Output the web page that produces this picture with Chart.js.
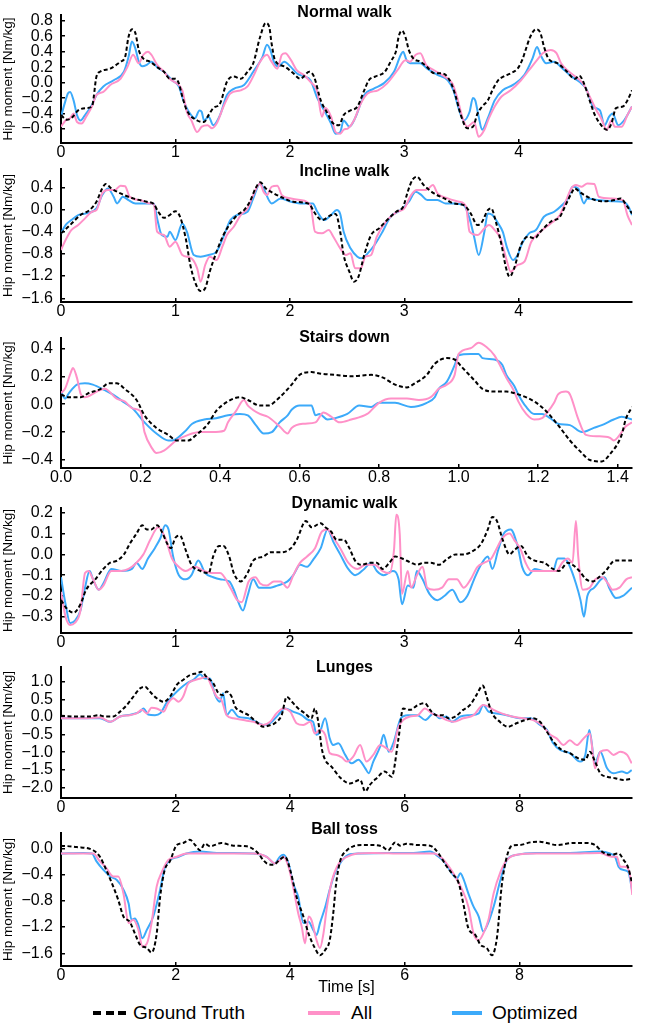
<!DOCTYPE html>
<html>
<head>
<meta charset="utf-8">
<script src="https://cdn.jsdelivr.net/npm/chart.js@4.4.1/dist/chart.umd.min.js"></script>
<style>
body { margin: 0; background: #fff; width: 656px; height: 1024px; position: relative; overflow: hidden; font-family: "Liberation Sans", Arial, sans-serif; }
canvas { position: absolute; left: 0; }
.item { position: absolute; top: 1001px; height: 24px; line-height: 24px; font-size: 19px; color: #000; white-space: nowrap; }
.swatch { position: absolute; top: 1011px; height: 4px; }
</style>
</head>
<body>

<div class="swatch" style="left:93px;width:33px;background:repeating-linear-gradient(to right,#000 0 8px,transparent 8px 12.5px);"></div>
<div class="item" style="left:133px;">Ground Truth</div>
<div class="swatch" style="left:308px;width:32px;background:rgb(255,145,200);"></div>
<div class="item" style="left:351px;">All</div>
<div class="swatch" style="left:452px;width:30px;background:rgb(60,170,250);"></div>
<div class="item" style="left:492px;">Optimized</div>

<script>
// series names and tick labels
var seriesNames = ['Ground Truth', 'All', 'Optimized'];
var walkXTicks = [0, 1, 2, 3, 4];
var stairsXTicks = [0, 0.2, 0.4, 0.6, 0.8, 1.0, 1.2, 1.4];
var longXTicks = [0, 2, 4, 6, 8];
var normalYTicks = [-0.6, -0.4, -0.2, 0, 0.2, 0.4, 0.6, 0.8];
var inclineYTicks = [-1.6, -1.2, -0.8, -0.4, 0, 0.4];
var stairsYTicks = [-0.4, -0.2, 0, 0.2, 0.4];
var dynamicYTicks = [-0.3, -0.2, -0.1, 0, 0.1, 0.2];
var lungesYTicks = [-2.0, -1.5, -1.0, -0.5, 0, 0.5, 1.0];
var ballYTicks = [-1.6, -1.2, -0.8, -0.4, 0];

// [time, moment]
var normalTruth = [[0,-0.42],[0.05,-0.48],[0.09,-0.46],[0.15,-0.36],[0.22,-0.33],[0.27,-0.31],[0.31,0.08],[0.34,0.14],[0.43,0.18],[0.52,0.27],[0.56,0.33],[0.59,0.59],[0.62,0.69],[0.65,0.64],[0.68,0.42],[0.72,0.31],[0.78,0.27],[0.84,0.20],[0.90,0.14],[0.95,0.05],[1.0,0.05],[1.03,-0.01],[1.06,-0.18],[1.10,-0.36],[1.19,-0.49],[1.25,-0.51],[1.29,-0.42],[1.33,-0.33],[1.39,-0.27],[1.45,0.01],[1.51,0.08],[1.57,0.05],[1.63,0.14],[1.68,0.25],[1.74,0.59],[1.79,0.77],[1.82,0.72],[1.84,0.51],[1.87,0.29],[1.95,0.21],[2.03,0.12],[2.09,0.05],[2.17,0.14],[2.21,0.08],[2.27,-0.23],[2.33,-0.40],[2.38,-0.53],[2.43,-0.55],[2.47,-0.42],[2.53,-0.36],[2.59,-0.31],[2.65,-0.10],[2.69,0.03],[2.75,0.08],[2.83,0.14],[2.88,0.27],[2.93,0.42],[2.95,0.59],[2.98,0.67],[3.01,0.59],[3.04,0.42],[3.08,0.31],[3.14,0.27],[3.20,0.20],[3.26,0.12],[3.32,0.12],[3.36,0.10],[3.41,-0.01],[3.45,-0.18],[3.49,-0.40],[3.55,-0.59],[3.60,-0.57],[3.64,-0.40],[3.68,-0.31],[3.73,-0.23],[3.77,-0.10],[3.82,0.03],[3.87,0.08],[3.93,0.12],[3.99,0.18],[4.03,0.29],[4.06,0.42],[4.10,0.59],[4.15,0.69],[4.19,0.64],[4.22,0.47],[4.26,0.31],[4.34,0.25],[4.41,0.16],[4.49,0.05],[4.53,0.09],[4.57,-0.01],[4.62,-0.23],[4.66,-0.40],[4.72,-0.55],[4.77,-0.61],[4.81,-0.53],[4.85,-0.33],[4.91,-0.31],[4.95,-0.23],[4.99,-0.10]];
var normalAll = [[0,-0.57],[0.04,-0.49],[0.08,-0.46],[0.11,-0.40],[0.14,-0.51],[0.18,-0.53],[0.22,-0.44],[0.27,-0.31],[0.31,-0.16],[0.37,-0.12],[0.43,-0.03],[0.52,0.05],[0.58,0.20],[0.63,0.36],[0.68,0.25],[0.72,0.36],[0.76,0.40],[0.79,0.36],[0.84,0.23],[0.90,0.14],[0.95,0.05],[1.01,-0.01],[1.06,-0.10],[1.10,-0.38],[1.14,-0.49],[1.19,-0.64],[1.23,-0.57],[1.28,-0.55],[1.32,-0.59],[1.36,-0.53],[1.42,-0.31],[1.48,-0.14],[1.57,-0.10],[1.63,-0.05],[1.68,0.08],[1.74,0.27],[1.80,0.36],[1.84,0.27],[1.89,0.18],[1.93,0.36],[1.96,0.38],[2.01,0.29],[2.06,0.16],[2.12,0.10],[2.18,0.01],[2.24,-0.12],[2.28,-0.44],[2.31,-0.33],[2.36,-0.44],[2.40,-0.64],[2.44,-0.66],[2.47,-0.61],[2.51,-0.59],[2.56,-0.49],[2.62,-0.27],[2.68,-0.14],[2.77,-0.10],[2.85,-0.01],[2.94,0.16],[3.01,0.29],[3.05,0.27],[3.10,0.36],[3.14,0.38],[3.19,0.23],[3.26,0.16],[3.35,0.08],[3.42,-0.01],[3.46,-0.18],[3.51,-0.46],[3.55,-0.57],[3.61,-0.51],[3.65,-0.70],[3.70,-0.61],[3.74,-0.46],[3.79,-0.31],[3.85,-0.18],[3.93,-0.10],[4.02,0.03],[4.09,0.16],[4.17,0.31],[4.21,0.38],[4.28,0.42],[4.33,0.38],[4.37,0.25],[4.44,0.14],[4.52,0.05],[4.57,-0.03],[4.62,-0.18],[4.68,-0.36],[4.72,-0.46],[4.77,-0.61],[4.81,-0.49],[4.84,-0.57],[4.90,-0.57],[4.95,-0.42],[4.99,-0.31]];
var normalOpt = [[0,-0.44],[0.04,-0.23],[0.06,-0.14],[0.08,-0.12],[0.11,-0.23],[0.14,-0.42],[0.17,-0.49],[0.21,-0.42],[0.27,-0.29],[0.31,-0.16],[0.37,-0.05],[0.46,0.03],[0.55,0.14],[0.59,0.33],[0.62,0.53],[0.65,0.44],[0.68,0.27],[0.71,0.21],[0.75,0.23],[0.79,0.27],[0.84,0.20],[0.90,0.14],[0.97,0.03],[1.03,-0.05],[1.07,-0.23],[1.11,-0.36],[1.17,-0.46],[1.21,-0.36],[1.23,-0.38],[1.25,-0.49],[1.29,-0.44],[1.33,-0.55],[1.39,-0.42],[1.45,-0.16],[1.51,-0.08],[1.60,-0.03],[1.68,0.14],[1.76,0.33],[1.80,0.49],[1.83,0.42],[1.86,0.27],[1.90,0.21],[1.95,0.27],[2.01,0.20],[2.06,0.12],[2.12,0.08],[2.18,0.03],[2.24,-0.20],[2.30,-0.36],[2.36,-0.53],[2.40,-0.66],[2.44,-0.64],[2.47,-0.49],[2.52,-0.57],[2.57,-0.46],[2.65,-0.16],[2.73,-0.08],[2.82,-0.01],[2.91,0.14],[2.97,0.36],[2.99,0.40],[3.02,0.29],[3.05,0.25],[3.10,0.25],[3.14,0.25],[3.20,0.18],[3.29,0.10],[3.38,0.03],[3.43,-0.10],[3.48,-0.36],[3.52,-0.49],[3.57,-0.38],[3.60,-0.20],[3.62,-0.23],[3.65,-0.44],[3.68,-0.61],[3.73,-0.46],[3.79,-0.23],[3.86,-0.10],[3.95,-0.03],[4.05,0.10],[4.12,0.31],[4.16,0.46],[4.19,0.36],[4.24,0.25],[4.31,0.27],[4.37,0.20],[4.46,0.08],[4.53,0.01],[4.59,-0.08],[4.65,-0.31],[4.71,-0.36],[4.75,-0.55],[4.79,-0.44],[4.82,-0.40],[4.87,-0.55],[4.92,-0.49],[4.99,-0.31]];

var inclineTruth = [[0,-0.43],[0.08,-0.28],[0.17,-0.10],[0.25,-0.01],[0.31,0.14],[0.36,0.38],[0.39,0.46],[0.44,0.38],[0.52,0.29],[0.63,0.20],[0.75,0.14],[0.81,0.10],[0.85,-0.04],[0.90,-0.15],[0.95,-0.10],[1.00,-0.03],[1.04,-0.13],[1.09,-0.52],[1.13,-1.0],[1.17,-1.30],[1.22,-1.47],[1.26,-1.42],[1.30,-1.12],[1.36,-0.76],[1.42,-0.46],[1.48,-0.25],[1.54,-0.10],[1.60,-0.01],[1.65,0.14],[1.70,0.38],[1.74,0.49],[1.79,0.38],[1.86,0.29],[1.95,0.20],[2.03,0.14],[2.17,0.10],[2.21,-0.04],[2.28,-0.19],[2.36,-0.10],[2.40,-0.08],[2.44,-0.40],[2.47,-0.82],[2.52,-1.12],[2.56,-1.30],[2.60,-1.21],[2.65,-0.82],[2.71,-0.46],[2.78,-0.34],[2.85,-0.19],[2.93,-0.04],[2.99,0.05],[3.03,0.32],[3.07,0.53],[3.11,0.59],[3.17,0.44],[3.26,0.29],[3.35,0.20],[3.43,0.11],[3.52,0.08],[3.58,-0.07],[3.64,-0.28],[3.68,-0.22],[3.73,-0.01],[3.76,0.02],[3.80,-0.22],[3.85,-0.64],[3.89,-1.06],[3.92,-1.21],[3.96,-1.06],[4.02,-0.64],[4.08,-0.49],[4.14,-0.52],[4.19,-0.40],[4.28,-0.22],[4.36,-0.13],[4.41,0.08],[4.46,0.29],[4.49,0.38],[4.53,0.32],[4.60,0.23],[4.72,0.15],[4.84,0.17],[4.89,0.20],[4.94,0.08],[4.99,-0.07]];
var inclineAll = [[0,-0.73],[0.04,-0.55],[0.09,-0.37],[0.15,-0.28],[0.21,-0.16],[0.27,-0.04],[0.31,-0.01],[0.36,0.29],[0.41,0.35],[0.47,0.35],[0.52,0.43],[0.56,0.42],[0.60,0.23],[0.69,0.17],[0.78,0.11],[0.81,0.11],[0.84,-0.40],[0.90,-0.46],[0.95,-0.67],[1.00,-0.58],[1.06,-0.82],[1.14,-0.88],[1.19,-1.06],[1.22,-1.30],[1.26,-1.0],[1.30,-0.85],[1.36,-0.91],[1.41,-0.67],[1.45,-0.46],[1.51,-0.31],[1.57,-0.10],[1.63,0.02],[1.68,0.26],[1.74,0.47],[1.77,0.32],[1.80,0.26],[1.84,0.41],[1.89,0.43],[1.93,0.26],[2.01,0.20],[2.09,0.17],[2.18,0.08],[2.22,-0.40],[2.28,-0.43],[2.34,-0.37],[2.38,-0.49],[2.44,-0.70],[2.49,-0.82],[2.53,-0.79],[2.57,-1.06],[2.62,-1.06],[2.66,-0.85],[2.71,-0.82],[2.76,-0.49],[2.85,-0.19],[2.94,-0.04],[3.00,0.02],[3.06,0.26],[3.11,0.35],[3.19,0.35],[3.25,0.44],[3.29,0.29],[3.38,0.20],[3.48,0.14],[3.54,0.05],[3.57,-0.40],[3.64,-0.46],[3.70,-0.34],[3.74,-0.28],[3.79,-0.37],[3.84,-0.52],[3.89,-0.88],[3.93,-1.12],[3.99,-1.0],[4.05,-0.94],[4.11,-0.58],[4.19,-0.40],[4.28,-0.25],[4.36,-0.10],[4.41,0.14],[4.46,0.38],[4.50,0.44],[4.55,0.41],[4.60,0.47],[4.66,0.46],[4.70,0.23],[4.81,0.20],[4.91,0.17],[4.95,-0.10],[4.99,-0.28]];
var inclineOpt = [[0,-0.43],[0.04,-0.28],[0.09,-0.19],[0.15,-0.10],[0.22,-0.07],[0.31,0.02],[0.36,0.26],[0.41,0.38],[0.46,0.23],[0.49,0.11],[0.54,0.23],[0.59,0.17],[0.65,0.11],[0.75,0.11],[0.81,0.11],[0.84,-0.16],[0.88,-0.46],[0.93,-0.49],[0.95,-0.40],[1.00,-0.55],[1.06,-0.25],[1.10,-0.40],[1.16,-0.82],[1.22,-0.85],[1.29,-0.82],[1.36,-0.76],[1.42,-0.49],[1.48,-0.19],[1.54,-0.10],[1.63,-0.04],[1.68,0.20],[1.74,0.47],[1.77,0.38],[1.84,0.11],[1.92,0.20],[2.01,0.14],[2.09,0.11],[2.20,0.11],[2.24,-0.04],[2.30,-0.19],[2.36,-0.10],[2.41,-0.01],[2.44,-0.08],[2.47,-0.40],[2.53,-0.70],[2.59,-0.85],[2.63,-0.88],[2.68,-0.79],[2.74,-0.64],[2.81,-0.40],[2.88,-0.13],[2.97,-0.01],[3.04,0.14],[3.10,0.32],[3.15,0.26],[3.20,0.17],[3.29,0.17],[3.36,0.11],[3.43,0.11],[3.52,0.08],[3.57,-0.16],[3.61,-0.49],[3.65,-0.82],[3.70,-0.40],[3.73,-0.07],[3.77,-0.10],[3.82,-0.25],[3.86,-0.40],[3.90,-0.70],[3.95,-0.91],[3.99,-0.82],[4.03,-0.61],[4.09,-0.43],[4.15,-0.37],[4.22,-0.13],[4.31,-0.04],[4.38,0.08],[4.43,0.20],[4.47,0.41],[4.52,0.38],[4.57,0.11],[4.60,0.20],[4.69,0.17],[4.81,0.15],[4.91,0.14],[4.96,0.05],[4.99,-0.10]];

var stairsTruth = [[0,0.07],[0.02,0.05],[0.05,0.05],[0.07,0.08],[0.10,0.11],[0.12,0.15],[0.14,0.15],[0.16,0.11],[0.19,0.03],[0.21,-0.08],[0.24,-0.17],[0.27,-0.22],[0.29,-0.26],[0.32,-0.26],[0.34,-0.22],[0.37,-0.14],[0.39,-0.05],[0.42,0.02],[0.45,0.05],[0.47,0.03],[0.50,-0.01],[0.52,-0.01],[0.55,0.05],[0.58,0.14],[0.60,0.21],[0.63,0.23],[0.65,0.22],[0.69,0.21],[0.73,0.20],[0.78,0.21],[0.81,0.19],[0.84,0.14],[0.87,0.12],[0.89,0.15],[0.92,0.21],[0.94,0.29],[0.97,0.33],[0.99,0.32],[1.01,0.26],[1.04,0.17],[1.06,0.11],[1.09,0.09],[1.12,0.09],[1.15,0.07],[1.19,0.02],[1.22,-0.05],[1.25,-0.15],[1.28,-0.26],[1.31,-0.35],[1.33,-0.40],[1.36,-0.41],[1.38,-0.36],[1.41,-0.22],[1.42,-0.11],[1.436,-0.02]];
var stairsAll = [[0,0.08],[0.01,0.11],[0.025,0.23],[0.03,0.26],[0.04,0.19],[0.05,0.07],[0.06,0.05],[0.09,0.09],[0.11,0.11],[0.14,0.04],[0.16,0.02],[0.18,-0.03],[0.20,-0.05],[0.21,-0.20],[0.23,-0.32],[0.24,-0.35],[0.26,-0.33],[0.29,-0.26],[0.32,-0.22],[0.35,-0.20],[0.38,-0.20],[0.41,-0.19],[0.42,-0.13],[0.44,-0.05],[0.46,0.03],[0.47,-0.01],[0.50,-0.07],[0.52,-0.09],[0.55,-0.16],[0.57,-0.21],[0.58,-0.17],[0.61,-0.14],[0.64,-0.13],[0.66,-0.06],[0.68,-0.09],[0.70,-0.13],[0.73,-0.11],[0.77,-0.07],[0.80,0.01],[0.83,0.04],[0.87,0.04],[0.90,0.03],[0.93,0.05],[0.95,0.11],[0.97,0.14],[0.99,0.21],[1.00,0.36],[1.03,0.40],[1.05,0.44],[1.07,0.41],[1.09,0.35],[1.10,0.30],[1.12,0.19],[1.14,0.09],[1.15,0.02],[1.17,-0.07],[1.19,-0.11],[1.21,-0.10],[1.22,-0.07],[1.24,0.01],[1.25,0.07],[1.27,0.09],[1.28,0.07],[1.30,-0.10],[1.32,-0.22],[1.35,-0.23],[1.38,-0.24],[1.39,-0.26],[1.41,-0.20],[1.42,-0.16],[1.436,-0.13]];
var stairsOpt = [[0,0.09],[0.01,0.04],[0.02,0.08],[0.04,0.14],[0.06,0.15],[0.08,0.14],[0.11,0.10],[0.13,0.07],[0.16,0.01],[0.18,-0.03],[0.21,-0.13],[0.24,-0.21],[0.27,-0.26],[0.28,-0.26],[0.31,-0.20],[0.33,-0.14],[0.36,-0.11],[0.39,-0.10],[0.42,-0.08],[0.45,-0.07],[0.47,-0.08],[0.49,-0.15],[0.51,-0.21],[0.53,-0.20],[0.55,-0.13],[0.57,-0.08],[0.58,-0.04],[0.60,-0.01],[0.63,-0.01],[0.64,-0.08],[0.65,-0.07],[0.67,-0.11],[0.69,-0.10],[0.72,-0.07],[0.75,-0.01],[0.78,-0.02],[0.80,0.01],[0.84,0.01],[0.88,-0.02],[0.92,0.01],[0.94,0.05],[0.95,0.11],[0.97,0.16],[0.99,0.28],[1.00,0.35],[1.03,0.36],[1.05,0.36],[1.06,0.33],[1.09,0.32],[1.11,0.28],[1.12,0.21],[1.14,0.13],[1.15,0.07],[1.17,-0.02],[1.19,-0.07],[1.21,-0.07],[1.23,-0.10],[1.25,-0.14],[1.28,-0.15],[1.31,-0.20],[1.34,-0.17],[1.36,-0.15],[1.39,-0.11],[1.41,-0.09],[1.436,-0.11]];

var dynamicTruth = [[0,-0.22],[0.05,-0.26],[0.11,-0.28],[0.17,-0.24],[0.22,-0.17],[0.30,-0.12],[0.37,-0.07],[0.43,-0.04],[0.49,-0.03],[0.55,0.00],[0.60,0.05],[0.66,0.10],[0.71,0.14],[0.75,0.12],[0.79,0.12],[0.84,0.14],[0.88,0.11],[0.93,0.05],[0.96,0.03],[1.00,0.08],[1.04,0.09],[1.09,0.02],[1.14,-0.05],[1.22,-0.08],[1.29,-0.09],[1.33,-0.01],[1.38,0.04],[1.42,0.04],[1.47,-0.01],[1.51,-0.09],[1.57,-0.13],[1.63,-0.09],[1.68,-0.03],[1.77,-0.01],[1.83,0.01],[1.92,0.01],[2.01,0.03],[2.06,0.07],[2.14,0.16],[2.19,0.13],[2.27,0.15],[2.31,0.13],[2.36,0.11],[2.41,0.07],[2.47,0.07],[2.52,0.03],[2.57,-0.03],[2.62,-0.05],[2.71,-0.04],[2.76,-0.04],[2.81,-0.07],[2.87,-0.04],[2.92,-0.01],[2.98,-0.02],[3.06,-0.04],[3.11,-0.05],[3.17,-0.04],[3.23,-0.04],[3.30,-0.05],[3.38,-0.02],[3.45,0.00],[3.52,0.00],[3.61,0.02],[3.67,0.05],[3.73,0.12],[3.77,0.18],[3.81,0.16],[3.86,0.07],[3.92,0.00],[3.96,0.02],[4.02,0.04],[4.08,-0.01],[4.14,-0.03],[4.22,-0.04],[4.30,-0.07],[4.35,-0.08],[4.43,-0.04],[4.47,-0.05],[4.53,-0.08],[4.59,-0.12],[4.65,-0.13],[4.70,-0.11],[4.76,-0.08],[4.84,-0.03],[4.90,-0.03],[4.99,-0.03]];
var dynamicAll = [[0,-0.18],[0.04,-0.30],[0.08,-0.34],[0.12,-0.33],[0.17,-0.27],[0.21,-0.09],[0.24,-0.08],[0.28,-0.12],[0.33,-0.17],[0.37,-0.15],[0.44,-0.08],[0.52,-0.08],[0.59,-0.07],[0.66,-0.04],[0.72,0.00],[0.78,0.07],[0.85,0.13],[0.91,0.08],[0.97,-0.02],[1.01,-0.05],[1.09,-0.08],[1.17,-0.06],[1.25,-0.08],[1.33,-0.09],[1.39,-0.09],[1.48,-0.16],[1.54,-0.22],[1.58,-0.23],[1.64,-0.13],[1.70,-0.11],[1.74,-0.14],[1.80,-0.15],[1.86,-0.13],[1.92,-0.13],[1.98,-0.16],[2.03,-0.10],[2.09,-0.04],[2.15,-0.01],[2.22,0.03],[2.28,0.11],[2.33,0.12],[2.38,0.08],[2.44,0.03],[2.51,-0.04],[2.59,-0.07],[2.66,-0.05],[2.74,-0.05],[2.81,-0.08],[2.87,-0.09],[2.91,0.02],[2.93,0.19],[2.96,0.10],[2.98,-0.19],[3.03,-0.08],[3.06,-0.16],[3.11,-0.10],[3.16,-0.06],[3.20,-0.16],[3.26,-0.17],[3.33,-0.16],[3.39,-0.12],[3.46,-0.12],[3.52,-0.16],[3.58,-0.12],[3.64,-0.06],[3.70,-0.04],[3.76,-0.02],[3.80,0.02],[3.86,0.08],[3.92,0.10],[3.96,0.07],[4.02,0.02],[4.06,-0.04],[4.11,-0.08],[4.16,-0.08],[4.25,-0.08],[4.33,-0.08],[4.38,-0.04],[4.43,-0.02],[4.47,-0.04],[4.50,0.16],[4.52,-0.01],[4.56,-0.17],[4.62,-0.16],[4.67,-0.12],[4.73,-0.11],[4.78,-0.14],[4.82,-0.17],[4.88,-0.16],[4.94,-0.12],[4.99,-0.11]];
var dynamicOpt = [[0,-0.11],[0.04,-0.24],[0.08,-0.33],[0.12,-0.32],[0.17,-0.27],[0.21,-0.16],[0.25,-0.08],[0.28,-0.12],[0.33,-0.17],[0.37,-0.14],[0.44,-0.07],[0.53,-0.08],[0.62,-0.07],[0.66,-0.04],[0.71,-0.07],[0.76,-0.02],[0.82,0.03],[0.87,0.08],[0.91,0.14],[0.94,0.12],[0.98,-0.01],[1.03,-0.10],[1.09,-0.12],[1.14,-0.10],[1.20,-0.03],[1.26,-0.09],[1.33,-0.11],[1.39,-0.12],[1.47,-0.13],[1.51,-0.17],[1.55,-0.23],[1.59,-0.27],[1.63,-0.20],[1.68,-0.12],[1.73,-0.16],[1.77,-0.16],[1.83,-0.16],[1.89,-0.15],[1.98,-0.13],[2.03,-0.10],[2.09,-0.05],[2.15,-0.06],[2.21,-0.02],[2.27,0.03],[2.33,0.12],[2.38,0.06],[2.44,0.00],[2.51,-0.07],[2.57,-0.10],[2.65,-0.07],[2.71,-0.04],[2.76,-0.08],[2.82,-0.10],[2.90,-0.08],[2.95,-0.12],[2.98,-0.24],[3.03,-0.15],[3.08,-0.16],[3.11,-0.08],[3.16,-0.12],[3.22,-0.19],[3.29,-0.22],[3.35,-0.20],[3.42,-0.17],[3.49,-0.23],[3.55,-0.20],[3.61,-0.12],[3.67,-0.05],[3.73,-0.01],[3.77,-0.07],[3.82,0.02],[3.87,0.10],[3.93,0.12],[3.99,0.04],[4.03,-0.06],[4.08,-0.10],[4.14,-0.07],[4.22,-0.08],[4.30,-0.08],[4.34,-0.02],[4.40,-0.02],[4.44,-0.05],[4.50,-0.14],[4.54,-0.22],[4.57,-0.30],[4.60,-0.20],[4.66,-0.16],[4.72,-0.12],[4.75,-0.11],[4.79,-0.16],[4.85,-0.21],[4.91,-0.20],[4.99,-0.16]];

var lungesTruth = [[0,0.03],[0.27,0.01],[0.51,0.01],[0.65,0.05],[0.77,0.01],[0.91,0.01],[1.03,0.15],[1.15,0.34],[1.26,0.57],[1.38,0.81],[1.47,0.86],[1.55,0.72],[1.67,0.53],[1.79,0.43],[1.90,0.57],[2.02,0.91],[2.13,1.05],[2.25,1.19],[2.37,1.24],[2.45,1.28],[2.54,1.14],[2.66,0.95],[2.75,0.67],[2.83,0.62],[2.89,0.72],[2.98,0.57],[3.04,0.29],[3.15,0.15],[3.27,0.05],[3.41,-0.14],[3.53,-0.28],[3.62,-0.25],[3.73,-0.18],[3.85,0.05],[3.94,0.57],[4.03,0.43],[4.14,0.24],[4.26,0.10],[4.37,-0.04],[4.43,0.24],[4.49,-0.14],[4.55,-0.89],[4.61,-1.22],[4.72,-1.41],[4.87,-1.72],[5.04,-1.89],[5.22,-1.79],[5.31,-2.12],[5.39,-1.93],[5.51,-1.74],[5.65,-1.55],[5.77,-1.70],[5.89,-0.61],[5.97,0.24],[6.09,0.20],[6.23,0.34],[6.35,0.39],[6.44,0.20],[6.55,0.05],[6.67,0.05],[6.76,-0.04],[6.88,0.01],[7.02,0.20],[7.14,0.34],[7.25,0.62],[7.36,0.89],[7.43,0.57],[7.51,0.15],[7.66,-0.14],[7.80,-0.28],[7.95,-0.18],[8.10,-0.09],[8.24,-0.04],[8.36,-0.14],[8.48,-0.42],[8.59,-0.70],[8.74,-0.94],[8.88,-1.03],[9.03,-1.18],[9.15,-1.22],[9.23,-0.99],[9.32,-1.27],[9.41,-1.60],[9.53,-1.70],[9.67,-1.74],[9.81,-1.79],[9.96,-1.76]];
var lungesAll = [[0,-0.04],[0.39,-0.04],[0.68,-0.02],[0.86,-0.14],[1.03,0.01],[1.20,0.05],[1.32,0.10],[1.41,0.20],[1.50,0.10],[1.58,0.26],[1.67,0.24],[1.79,0.15],[1.87,0.39],[1.96,0.53],[2.05,0.43],[2.13,0.57],[2.22,0.95],[2.34,1.05],[2.43,1.09],[2.54,1.14],[2.63,0.86],[2.72,0.57],[2.80,0.48],[2.89,0.05],[3.01,-0.04],[3.18,-0.09],[3.36,-0.14],[3.53,-0.23],[3.65,-0.14],[3.76,0.10],[3.88,0.24],[4.00,0.15],[4.11,-0.18],[4.23,-0.23],[4.35,-0.14],[4.43,-0.47],[4.52,-0.37],[4.61,-0.51],[4.69,-1.03],[4.81,-1.08],[4.90,-1.15],[4.99,-1.27],[5.10,-1.13],[5.22,-0.80],[5.33,-1.27],[5.45,-1.08],[5.57,-0.80],[5.68,-0.89],[5.77,-0.99],[5.89,-0.28],[5.97,-0.09],[6.09,0.01],[6.23,0.05],[6.35,0.24],[6.47,0.10],[6.61,0.01],[6.73,-0.09],[6.85,-0.14],[7.02,-0.04],[7.20,0.05],[7.37,0.34],[7.46,0.29],[7.55,0.20],[7.69,0.10],[7.87,0.01],[8.07,-0.04],[8.24,-0.09],[8.39,-0.23],[8.54,-0.51],[8.65,-0.61],[8.77,-0.80],[8.88,-0.66],[9.00,-0.80],[9.12,-0.61],[9.23,-0.47],[9.32,-1.46],[9.41,-0.99],[9.53,-0.94],[9.64,-1.08],[9.76,-0.99],[9.88,-1.08],[9.96,-1.32]];
var lungesOpt = [[0,-0.04],[0.39,-0.04],[0.68,-0.04],[0.86,-0.14],[1.03,0.01],[1.23,0.07],[1.38,0.15],[1.44,0.24],[1.52,0.07],[1.64,0.05],[1.73,0.10],[1.84,0.39],[1.96,0.62],[2.08,0.81],[2.19,0.95],[2.31,1.05],[2.43,1.21],[2.51,1.09],[2.60,1.09],[2.69,0.62],[2.77,0.43],[2.83,0.67],[2.89,0.05],[2.98,0.20],[3.09,0.01],[3.27,-0.04],[3.41,-0.14],[3.53,-0.23],[3.65,-0.18],[3.79,0.05],[3.91,0.24],[4.05,0.15],[4.20,0.05],[4.32,-0.09],[4.40,-0.14],[4.46,-0.51],[4.52,-0.42],[4.61,-0.04],[4.69,-0.61],[4.75,-0.80],[4.84,-0.75],[4.96,-1.08],[5.07,-1.32],[5.19,-1.22],[5.31,-1.46],[5.37,-1.60],[5.45,-1.27],[5.57,-0.84],[5.63,-0.51],[5.72,-0.99],[5.81,-0.70],[5.93,-0.04],[6.05,0.05],[6.22,0.05],[6.36,-0.09],[6.50,0.10],[6.61,-0.04],[6.73,0.01],[6.82,-0.14],[6.97,0.01],[7.14,0.05],[7.29,0.10],[7.37,0.34],[7.46,0.15],[7.61,0.10],[7.78,0.05],[8.01,-0.04],[8.19,-0.04],[8.36,-0.23],[8.48,-0.37],[8.59,-0.75],[8.71,-0.94],[8.88,-1.03],[9.06,-1.27],[9.15,-1.08],[9.22,-0.37],[9.32,-1.32],[9.41,-0.99],[9.53,-1.46],[9.64,-1.60],[9.79,-1.55],[9.88,-1.60],[9.96,-1.51]];

var ballTruth = [[0,0.04],[0.27,0.02],[0.56,-0.03],[0.68,-0.13],[0.79,-0.33],[0.91,-0.58],[1.00,-0.79],[1.09,-1.04],[1.20,-1.12],[1.29,-1.30],[1.38,-1.47],[1.50,-1.52],[1.58,-1.59],[1.67,-1.30],[1.73,-0.74],[1.81,-0.33],[1.90,-0.20],[2.02,0.05],[2.13,0.08],[2.25,0.13],[2.34,0.05],[2.43,-0.03],[2.51,0.07],[2.60,0.03],[2.80,0.08],[3.01,0.04],[3.24,0.03],[3.41,-0.05],[3.59,-0.23],[3.71,-0.25],[3.82,-0.17],[3.91,-0.13],[4.00,-0.33],[4.11,-0.74],[4.23,-1.04],[4.32,-1.30],[4.43,-1.52],[4.52,-1.63],[4.61,-1.55],[4.69,-1.40],[4.75,-1.0],[4.80,-0.55],[4.87,-0.20],[4.99,-0.03],[5.10,0.03],[5.28,0.05],[5.45,0.05],[5.60,0.03],[5.71,-0.03],[5.83,0.09],[5.92,0.04],[6.03,0.07],[6.21,0.05],[6.44,0.04],[6.59,-0.08],[6.71,-0.25],[6.82,-0.38],[6.94,-0.53],[7.02,-0.84],[7.11,-1.22],[7.23,-1.32],[7.32,-1.47],[7.43,-1.52],[7.52,-1.63],[7.61,-1.35],[7.69,-0.58],[7.78,-0.13],[7.87,0.04],[8.01,0.05],[8.19,0.09],[8.36,0.10],[8.48,0.08],[8.65,0.05],[8.94,0.08],[9.18,0.08],[9.32,0.05],[9.44,-0.05],[9.58,-0.10],[9.73,-0.08],[9.82,-0.18],[9.90,-0.30],[9.96,-0.51]];
var ballAll = [[0,-0.08],[0.39,-0.08],[0.56,-0.08],[0.68,-0.20],[0.79,-0.30],[0.91,-0.43],[1.00,-0.43],[1.09,-0.69],[1.18,-1.14],[1.26,-1.09],[1.35,-1.24],[1.42,-1.50],[1.50,-1.45],[1.58,-1.14],[1.67,-0.58],[1.76,-0.36],[1.87,-0.18],[2.02,-0.13],[2.19,-0.08],[2.43,-0.08],[2.72,-0.08],[3.01,-0.08],[3.36,-0.08],[3.59,-0.13],[3.73,-0.23],[3.82,-0.18],[3.88,-0.13],[3.97,-0.28],[4.05,-0.58],[4.14,-0.99],[4.20,-1.19],[4.26,-1.45],[4.32,-1.04],[4.37,-1.09],[4.46,-1.40],[4.52,-1.52],[4.58,-1.30],[4.64,-0.90],[4.72,-0.52],[4.85,-0.23],[4.99,-0.13],[5.17,-0.08],[5.45,-0.07],[5.98,-0.08],[6.50,-0.08],[6.65,-0.15],[6.77,-0.28],[6.88,-0.43],[7.00,-0.63],[7.11,-0.89],[7.20,-1.30],[7.29,-1.40],[7.37,-1.30],[7.46,-1.09],[7.55,-0.69],[7.67,-0.36],[7.78,-0.18],[7.95,-0.10],[8.30,-0.08],[8.88,-0.08],[9.41,-0.07],[9.61,-0.13],[9.70,-0.13],[9.76,-0.28],[9.84,-0.28],[9.93,-0.41],[9.97,-0.71]];
var ballOpt = [[0,-0.08],[0.39,-0.07],[0.54,-0.08],[0.62,-0.20],[0.74,-0.33],[0.86,-0.43],[0.97,-0.48],[1.09,-0.63],[1.18,-0.84],[1.23,-1.09],[1.29,-1.07],[1.35,-1.17],[1.42,-1.37],[1.50,-1.24],[1.61,-1.04],[1.73,-0.63],[1.81,-0.30],[1.90,-0.18],[2.05,-0.13],[2.19,-0.08],[2.43,-0.05],[2.72,-0.07],[3.01,-0.07],[3.36,-0.08],[3.59,-0.13],[3.73,-0.23],[3.82,-0.13],[3.88,-0.10],[3.97,-0.23],[4.05,-0.53],[4.14,-0.74],[4.23,-1.14],[4.32,-1.12],[4.40,-1.24],[4.46,-1.32],[4.52,-1.14],[4.61,-0.90],[4.69,-0.63],[4.77,-0.40],[4.87,-0.23],[5.01,-0.10],[5.22,-0.08],[5.68,-0.07],[6.15,-0.07],[6.44,-0.05],[6.59,-0.13],[6.71,-0.23],[6.82,-0.38],[6.91,-0.46],[6.97,-0.38],[7.02,-0.46],[7.11,-0.69],[7.20,-0.89],[7.29,-1.04],[7.37,-1.27],[7.43,-1.19],[7.55,-0.89],[7.67,-0.48],[7.78,-0.18],[7.95,-0.10],[8.30,-0.07],[8.88,-0.07],[9.41,-0.05],[9.58,-0.08],[9.67,-0.13],[9.73,-0.28],[9.82,-0.33],[9.90,-0.36],[9.97,-0.66]];

var truthColor = '#000000';
var allColor = 'rgb(255,145,200)';
var optColor = 'rgb(60,170,250)';
var fontFamily = '"Liberation Sans", Arial, sans-serif';
// room above each plot area; must exceed half a tick label plus the tick padding
var padTop = 24;

function formatTick(value, decimals) {
	var s = Math.abs(value).toFixed(decimals);
	return (value < -1e-9 ? '\u2212' : '') + s;
}

// subplot title drawn at a fixed height, like matplotlib does
var panelTitle = {
	id: 'panelTitle',
	afterDraw: function(chart, args, opts) {
		var ctx = chart.ctx;
		ctx.save();
		ctx.font = 'bold 16px ' + fontFamily;
		ctx.fillStyle = '#000';
		ctx.textAlign = 'center';
		ctx.textBaseline = 'middle';
		ctx.fillText(opts.text, 344.5, opts.y);
		ctx.restore();
	}
};

function makeLine(label, points, color, dash) {
	return {
		label: label,
		data: points.map(function(p) { return {x: p[0], y: p[1]}; }),
		borderColor: color,
		borderWidth: 2,
		borderDash: dash || [],
		pointRadius: 0,
		fill: false,
		cubicInterpolationMode: 'monotone'
	};
}

function createPanel(p) {
	var xH = p.xTitle ? 31 : 24;
	var canvasTop = p.top - padTop;
	var canvas = document.createElement('canvas');
	canvas.width = 656;
	canvas.height = padTop + (p.bottom - p.top) + xH;
	canvas.style.top = canvasTop + 'px';
	document.body.appendChild(canvas);

	var axisGrid = { drawOnChartArea: false, drawTicks: true, tickLength: -4, color: '#000', lineWidth: 1.5 };
	var axisBorder = { display: true, color: '#000', width: 2 };

	new Chart(canvas.getContext('2d'), {
		type: 'line',
		data: {
			datasets: [
				makeLine(seriesNames[0], p.truth, truthColor, [4, 2.5]),
				makeLine(seriesNames[1], p.all, allColor),
				makeLine(seriesNames[2], p.opt, optColor)
			]
		},
		options: {
			responsive: false,
			animation: false,
			layout: { padding: { top: padTop, right: 24, bottom: 0, left: 0 } },
			plugins: {
				legend: { display: false },
				tooltip: { enabled: false },
				panelTitle: { text: p.title, y: p.titleY - canvasTop }
			},
			scales: {
				x: {
					type: 'linear',
					min: 0,
					max: p.xMax,
					afterBuildTicks: function(s) { s.ticks = p.xTicks.map(function(v) { return {value: v}; }); },
					afterFit: function(s) { s.height = xH; },
					ticks: {
						autoSkip: false, maxRotation: 0, padding: 4, color: '#000',
						font: { family: fontFamily, size: 16 },
						callback: function(v) { return formatTick(v, p.xDecimals); }
					},
					grid: axisGrid,
					border: axisBorder,
					title: {
						display: !!p.xTitle, text: p.xTitle || '', color: '#000', padding: 0,
						font: { family: fontFamily, size: 16 }
					}
				},
				y: {
					type: 'linear',
					min: p.yMin,
					max: p.yMax,
					afterBuildTicks: function(s) { s.ticks = p.yTicks.map(function(v) { return {value: v}; }); },
					afterFit: function(s) { s.width = 61; },
					ticks: {
						autoSkip: false, padding: 12, color: '#000',
						font: { family: fontFamily, size: 16 },
						callback: function(v) { return formatTick(v, 1); }
					},
					grid: axisGrid,
					border: axisBorder,
					title: {
						display: true, text: 'Hip moment [Nm/kg]', color: '#000', padding: 0,
						font: { family: fontFamily, size: 13.5 }
					}
				}
			}
		},
		plugins: [panelTitle]
	});
}

createPanel({ title: 'Normal walk', titleY: 13, top: 15, bottom: 143, truth: normalTruth, all: normalAll, opt: normalOpt,
	xMax: 4.99, xTicks: walkXTicks, xDecimals: 0, yMin: -0.781, yMax: 0.874, yTicks: normalYTicks });
createPanel({ title: 'Incline walk', titleY: 172, top: 169, bottom: 302, truth: inclineTruth, all: inclineAll, opt: inclineOpt,
	xMax: 4.99, xTicks: walkXTicks, xDecimals: 0, yMin: -1.667, yMax: 0.73, yTicks: inclineYTicks });
createPanel({ title: 'Stairs down', titleY: 337.5, top: 338, bottom: 468, truth: stairsTruth, all: stairsAll, opt: stairsOpt,
	xMax: 1.436, xTicks: stairsXTicks, xDecimals: 1, yMin: -0.457, yMax: 0.474, yTicks: stairsYTicks });
createPanel({ title: 'Dynamic walk', titleY: 503.5, top: 508, bottom: 633, truth: dynamicTruth, all: dynamicAll, opt: dynamicOpt,
	xMax: 4.99, xTicks: walkXTicks, xDecimals: 0, yMin: -0.378, yMax: 0.223, yTicks: dynamicYTicks });
createPanel({ title: 'Lunges', titleY: 668, top: 667, bottom: 798, truth: lungesTruth, all: lungesAll, opt: lungesOpt,
	xMax: 9.965, xTicks: longXTicks, xDecimals: 0, yMin: -2.304, yMax: 1.418, yTicks: lungesYTicks });
createPanel({ title: 'Ball toss', titleY: 830, top: 833, bottom: 966, truth: ballTruth, all: ballAll, opt: ballOpt,
	xMax: 9.965, xTicks: longXTicks, xDecimals: 0, yMin: -1.794, yMax: 0.233, yTicks: ballYTicks, xTitle: 'Time [s]' });
</script>
</body>
</html>
